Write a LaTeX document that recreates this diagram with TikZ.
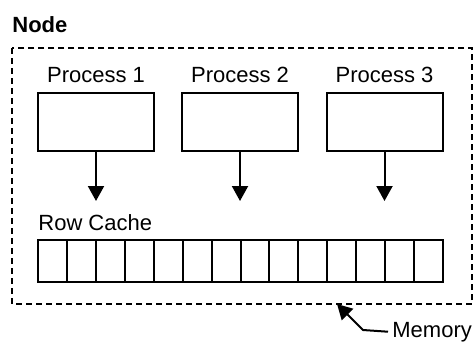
\documentclass[tikz,border=0pt]{standalone}
\usepackage{fontspec}
\setmainfont{Liberation Sans}
\usetikzlibrary{arrows.meta}

\tikzset{
  procbox/.style={draw, line width=1pt, minimum width=58pt, minimum height=29pt, inner sep=0pt},
  cellbox/.style={draw, line width=1pt, minimum width=14.46pt, minimum height=21pt, inner sep=0pt},
  lbl/.style={font=\fontsize{11}{13}\selectfont, inner sep=0pt},
  arr/.style={line width=1pt, -{Triangle[width=8pt,length=7.5pt]}},
}

\begin{document}
\begin{tikzpicture}[x=0.5pt, y=-0.5pt]
  \useasboundingbox (0,0) rectangle (475,343);
  \def\cw{28.93}
  % node frame
  \node[lbl, font=\fontsize{11}{13}\selectfont\bfseries, anchor=base west] (nodelbl) at (12,32) {Node};
  \draw[line width=1pt, dash pattern=on 3pt off 2pt]
    (12,48) coordinate (frame nw) rectangle (472,304) coordinate (frame se)
  ;
  % processes
  \node[procbox] (p1) at (96,122) {};
  \node[procbox] (p2) at (240,122) {};
  \node[procbox] (p3) at (384.5,122) {};
  \node[lbl, anchor=base] (p1 lbl) at (96,82.7) {Process 1};
  \node[lbl, anchor=base] (p2 lbl) at (240,82.7) {Process 2};
  \node[lbl, anchor=base] (p3 lbl) at (384.5,82.7) {Process 3};
  \draw[arr] (p1.south) -- ++(0,49) coordinate (a1);
  \draw[arr] (p2.south) -- ++(0,49) coordinate (a2);
  \draw[arr] (p3.south) -- ++(0,49) coordinate (a3);
  % row cache
  \node[lbl, anchor=base west] (cache lbl) at (38,230) {Row Cache};
  \foreach \i in {1,...,14}
    \node[cellbox] (c\i) at ({38+\cw*(\i-0.5)},261) {};
  % memory
  \coordinate (mem pt) at (337,304);
  \node[lbl, anchor=base west] (memlbl) at (392,337) {Memory};
  \draw[arr]
    (memlbl.west) ++(-4,0) coordinate (mem start)
    -- (363,330) -- (mem pt)
  ;
\end{tikzpicture}
\end{document}
